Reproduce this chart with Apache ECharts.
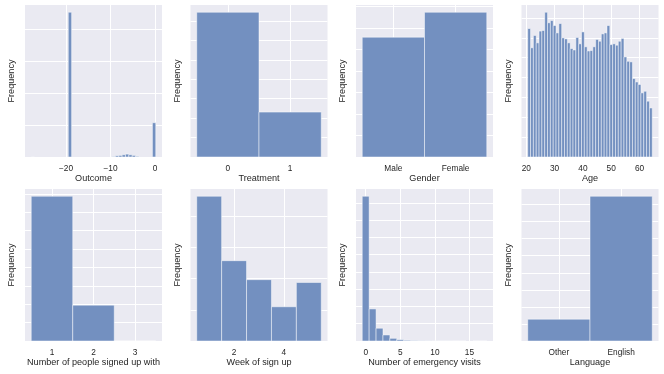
<!DOCTYPE html>
<html>
<head>
<meta charset="utf-8">
<script src="https://cdn.jsdelivr.net/npm/echarts@6/dist/echarts.min.js"></script>
<style>
html, body { margin: 0; padding: 0; background: #fff; }
#chart { width: 664px; height: 374px; }
</style>
</head>
<body>
<div id="chart"></div>
<script>
// ---- data (y in arbitrary count units) ----
// Outcome: 37 bins starting at -27.8, width 0.756
var outcome_bin_start = -27.8;
var outcome_bin_width = 0.756;
var outcome_counts = [2, 0, 0, 0, 0, 0, 0, 0, 0, 0, 0, 4520, 0, 0, 0, 0, 0, 0, 0, 0, 0, 0, 0, 0, 15,
    40, 50, 70, 90, 70, 50, 20, 0, 0, 0, 0, 1070];

var treatment_labels = ['0', '1'];
var treatment_counts = [7450, 2310];

var gender_labels = ['Male', 'Female'];
var gender_counts = [5570, 6730];

// Age: one bar per year, 21 .. 64
var age_first = 21;
var age_counts = [647, 550, 612, 575, 634, 637, 729, 676, 687, 662, 625, 672, 600, 595, 575, 546, 539, 602,
    570, 630, 555, 534, 536, 555, 592, 583, 620, 625, 662, 566, 570, 563, 583, 597, 504, 482, 479, 395,
    378, 365, 323, 331, 281, 247];

var people_values = [1, 2, 3];
var people_counts = [7870, 1950, 5];

var week_values = [1, 2, 3, 4, 5];
var week_counts = [4650, 2580, 1970, 1100, 1880];

var visits_values = [0, 1, 2, 3, 4, 5, 6, 7, 8, 9, 10, 11, 12, 13, 14, 15, 16, 17];
var visits_counts = [8390, 1860, 740, 350, 155, 78, 40, 20, 10, 6, 4, 2, 2, 1, 1, 0, 1, 1];

var language_labels = ['Other', 'English'];
var language_counts = [1280, 8490];

// ---- helpers ----
var FONT = 'Liberation Sans, Arial, sans-serif';
var TEXT_COLOR = '#262626';

function bins_from_edges(start, width, counts) {
    var out = [];
    for (var i = 0; i < counts.length; i++) {
        out.push([start + i * width, start + (i + 1) * width, counts[i]]);
    }
    return out;
}

function bins_centered(values, counts) {
    var out = [];
    for (var i = 0; i < values.length; i++) {
        out.push([values[i] - 0.5, values[i] + 0.5, counts[i]]);
    }
    return out;
}

function render_bar(params, api) {
    var h = api.value(2);
    if (!h) return null;
    var p0 = api.coord([api.value(0), h]);
    var p1 = api.coord([api.value(1), 0]);
    return {
        type: 'rect',
        shape: { x: p0[0], y: p0[1], width: p1[0] - p0[0], height: p1[1] - p0[1] },
        style: { fill: '#7390c0', stroke: 'rgba(255,255,255,0.6)', lineWidth: 0.8 }
    };
}

function minus(v) {
    return v < 0 ? '\u2212' + Math.abs(v) : String(v);
}

var panels = [
    { name: 'Outcome', min: -29.2, max: 1.57, ticks: [-20, -10, 0], fmt: minus,
      data: bins_from_edges(outcome_bin_start, outcome_bin_width, outcome_counts), step: 1000 },
    { name: 'Treatment', min: -0.6, max: 1.6, ticks: [0, 1], fmt: function (v) { return treatment_labels[v]; },
      data: bins_centered([0, 1], treatment_counts), step: 1000 },
    { name: 'Gender', min: -0.6, max: 1.6, ticks: [0, 1], fmt: function (v) { return gender_labels[v]; },
      data: bins_centered([0, 1], gender_counts), step: 1000 },
    { name: 'Age', min: 18.3, max: 66.7, ticks: [20, 30, 40, 50, 60], fmt: String,
      data: bins_from_edges(age_first - 0.5, 1, age_counts), step: 100 },
    { name: 'Number of people signed up with', min: 0.35, max: 3.65, ticks: [1, 2, 3], fmt: String,
      data: bins_centered(people_values, people_counts), step: 1000 },
    { name: 'Week of sign up', min: 0.25, max: 5.75, ticks: [2, 4], fmt: String,
      data: bins_centered(week_values, week_counts), step: 1000 },
    { name: 'Number of emergency visits', min: -1.4, max: 18.4, ticks: [0, 5, 10, 15], fmt: String,
      data: bins_centered(visits_values, visits_counts), step: 1000 },
    { name: 'Language', min: -0.6, max: 1.6, ticks: [0, 1], fmt: function (v) { return language_labels[v]; },
      data: bins_centered([0, 1], language_counts), step: 1000 }
];

var lefts = [25, 190.5, 356, 521.5];
var tops = [5, 189];

var option = {
    backgroundColor: '#fff',
    animation: false,
    textStyle: { fontFamily: FONT },
    grid: [], xAxis: [], yAxis: [], series: []
};

for (var i = 0; i < panels.length; i++) {
    var p = panels[i];
    var top_count = 0;
    for (var j = 0; j < p.data.length; j++) top_count = Math.max(top_count, p.data[j][2]);
    var ymax = top_count * 1.05;
    var yticks = [];
    for (var t = 0; t <= ymax; t += p.step) yticks.push(t);

    option.grid.push({
        left: lefts[i % 4], top: tops[Math.floor(i / 4)], width: 137, height: 152,
        show: true, backgroundColor: '#eaeaf2', borderWidth: 0
    });
    option.xAxis.push({
        type: 'value', gridIndex: i, min: p.min, max: p.max,
        name: p.name, nameLocation: 'middle', nameGap: 17,
        nameTextStyle: { fontFamily: FONT, fontSize: 9.1, color: TEXT_COLOR },
        axisLine: { show: false },
        axisTick: { show: false, customValues: p.ticks },
        axisLabel: { customValues: p.ticks, formatter: p.fmt, fontFamily: FONT, fontSize: 8.3, color: TEXT_COLOR, margin: 8 },
        splitLine: { show: true, lineStyle: { color: '#ffffff', width: 1 } }
    });
    option.yAxis.push({
        type: 'value', gridIndex: i, min: 0, max: ymax,
        name: 'Frequency', nameLocation: 'middle', nameGap: 9,
        nameTextStyle: { fontFamily: FONT, fontSize: 9.1, color: TEXT_COLOR },
        axisLine: { show: false },
        axisTick: { show: false, customValues: yticks },
        axisLabel: { show: false, customValues: yticks },
        splitLine: { show: true, lineStyle: { color: '#ffffff', width: 1 } }
    });
    option.series.push({
        type: 'custom', xAxisIndex: i, yAxisIndex: i,
        renderItem: render_bar,
        encode: { x: [0, 1], y: 2 },
        data: p.data
    });
}

var chart = echarts.init(document.getElementById('chart'));
chart.setOption(option);
</script>
</body>
</html>
